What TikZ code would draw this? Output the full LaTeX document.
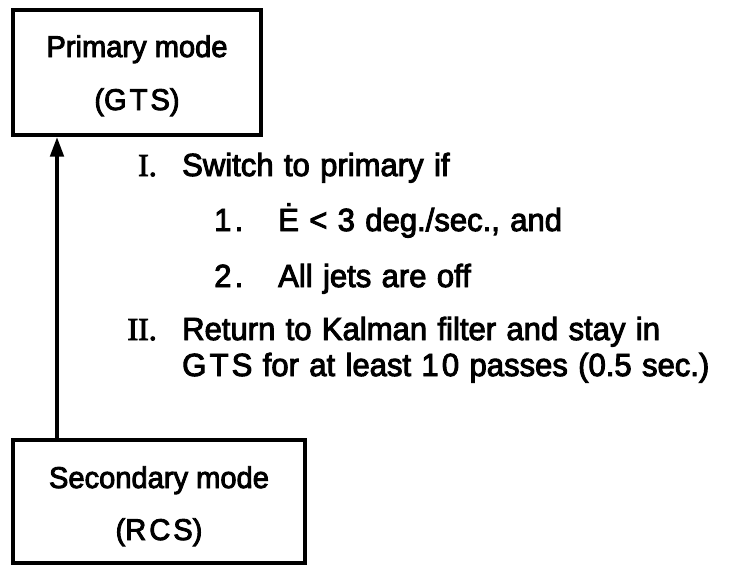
\documentclass[tikz,border=0pt]{standalone}
\usepackage{fontspec}
\setmainfont{Liberation Sans}[FakeStretch=0.97,FakeBold=3,WordSpace=1.2]
\newfontfamily\boxfont{Liberation Sans}[FakeStretch=0.97,FakeBold=3]
\newfontfamily\romfont{Liberation Serif}[FakeBold=3]
\newfontfamily\widefont{Liberation Sans}[FakeStretch=0.97,FakeBold=3,LetterSpace=10]
\newcommand{\wdtxt}[1]{{\widefont #1}}
\usetikzlibrary{arrows.meta}
\begin{document}
\begin{tikzpicture}[x=1pt,y=-1pt,
  modebox/.style={draw,line width=3.2pt,inner sep=0pt},
  boxtxt/.style={anchor=base,inner sep=0pt,font=\fontsize{30}{36}\selectfont\boxfont},
  txt/.style={anchor=base west,inner sep=0pt,font=\fontsize{32}{38}\selectfont},
  num/.style={anchor=base east,inner sep=0pt,font=\fontsize{32}{38}\selectfont\romfont},
  link/.style={line width=4.5pt,-{Triangle[length=20pt,width=13pt]}}]
\useasboundingbox (0,0) rectangle (737,565);
\node[modebox,minimum width=248pt,minimum height=125pt] (top) at (137,72.5) {};
\node[modebox,minimum width=292pt,minimum height=123pt] (bot) at (159,501.5) {};
\node[boxtxt] (t1) at (137,57) {Primary mode};
\node[boxtxt] (t2) at (137,110) {(\wdtxt{GTS})};
\node[boxtxt] (b1) at (159,488) {Secondary mode};
\node[boxtxt] (b2) at (159,540) {(\wdtxt{RCS})};
\draw[link] (bot.north -| 57,0) -- (top.south -| 57,0);
\node[num] (n1) at (157,176) {I.};
\node[txt] (l1) at (182,176) {Switch to primary if};
\node[txt] (n11) at (214,231) {\wdtxt{1.}};
\node[txt] (l11) at (278,231) {Ė < \wdtxt{3} deg./sec., and};
\node[txt] (n12) at (214,287) {\wdtxt{2.}};
\node[txt] (l12) at (278,287) {All jets are off};
\node[num] (n2) at (157,340) {II.};
\node[txt] (l2) at (182,340) {Return to Kalman filter and stay in};
\node[txt] (l3) at (182,376) {\wdtxt{GTS} for at least \wdtxt{10} passes (0.5 sec.)};
\end{tikzpicture}
\end{document}
